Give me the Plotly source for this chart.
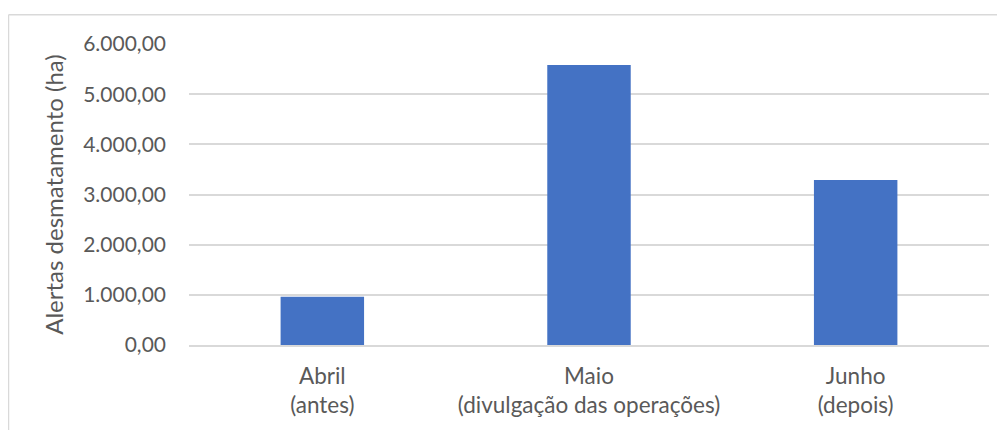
import plotly.graph_objects as go

categories = ["Abril<br>(antes)", "Maio<br>(divulgação das operações)", "Junho<br>(depois)"]
values = [960, 5580, 3290]
y_ticks = [0, 1000, 2000, 3000, 4000, 5000, 6000]

# page body has an 8px margin; figure is sized so it ends at the window edge
OFF = 8
W, H = 1005 - OFF, 430 - OFF
L, R, T, B = 189 - OFF, 16, 44 - OFF, 82
pw, ph = W - L - R, H - T - B

def px(x):
    return (x - OFF - L) / pw

def py(y):
    return (H - B - (y - OFF)) / ph

fig = go.Figure(go.Bar(x=categories, y=values, marker=dict(color="#4472C4", line=dict(width=0))))

grey = "#595959"
fig.update_layout(
    width=W, height=H,
    margin=dict(l=L, r=R, t=T, b=B),
    paper_bgcolor="white", plot_bgcolor="white",
    separators=",.",
    bargap=0.687,
    font=dict(family="Lato, Open Sans, sans-serif", size=21, color=grey),
    showlegend=False,
    yaxis=dict(
        range=[0, 6000], tickvals=y_ticks, tickformat=",.2f",
        showgrid=True, gridcolor="#D9D9D9", gridwidth=1.6,
        zeroline=False, showline=False,
        ticklabelstandoff=22,
        tickfont=dict(size=21, color=grey),
        title=dict(text="Alertas desmatamento (ha)",
                   font=dict(family="Lato, Open Sans, sans-serif", size=24, color=grey),
                   standoff=12),
    ),
    xaxis=dict(
        showline=True, linecolor="#D9D9D9", linewidth=1.6,
        showgrid=False, ticks="", ticklabelstandoff=10,
        tickfont=dict(size=22.5, color=grey),
    ),
    shapes=[
        dict(type="line", xref="paper", yref="paper", x0=px(8.5), x1=px(1010), y0=py(14.5), y1=py(14.5),
             line=dict(color="#D9D9D9", width=1.5)),
        dict(type="line", xref="paper", yref="paper", x0=px(8.5), x1=px(8.5), y0=py(14.5), y1=py(440),
             line=dict(color="#D9D9D9", width=1.5)),
    ],
)

fig.write_html("out.html")
